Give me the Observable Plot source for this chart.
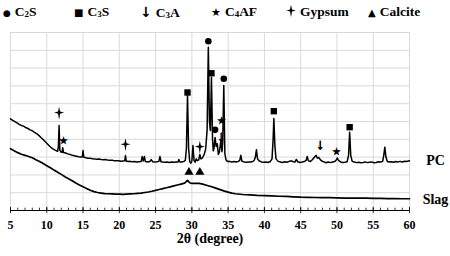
<!DOCTYPE html>
<html>
<head>
<meta charset="utf-8">
<script src="https://cdn.jsdelivr.net/npm/d3@7"></script>
<script src="https://cdn.jsdelivr.net/npm/@observablehq/plot@0.6"></script>
<style>
  html, body { margin: 0; padding: 0; background: #fff; }
  #wrap { position: relative; width: 450px; height: 256px; font-family: "Liberation Serif", "Times New Roman", serif; }
  #legend { position: relative; height: 26px; width: 450px; font-weight: bold; font-size: 13.5px; color: #000; }
  .item { position: absolute; top: 4px; white-space: nowrap; }
  .item sub { font-size: 9px; vertical-align: baseline; position: relative; top: 1px; }
  .sym { display: inline-block; margin-right: 4px; }
  #chart svg text { font-family: "Liberation Serif", "Times New Roman", serif; font-weight: bold; }
  #chart svg text.symtxt { font-family: "DejaVu Sans"; }
</style>
</head>
<body>
<div id="wrap">
  <div id="legend"></div>
  <div id="chart"></div>
</div>
<script>
// 2θ (degree) and relative intensity
const pcTheta = [5.0,5.3,5.6,5.9,6.2,6.5,6.8,7.1,7.4,7.7,8.0,8.3,8.6,8.9,9.2,9.5,9.8,10.1,10.4,10.7,11.0,11.3,11.5,11.6,11.7,11.8,11.95,12.1,12.2,12.3,12.6,12.9,13.2,13.5,13.8,14.1,14.4,14.7,14.9,15.0,15.1,15.4,15.7,16.0,16.3,16.6,16.9,17.2,17.5,17.8,18.1,18.4,18.7,19.0,19.3,19.6,19.9,20.2,20.5,20.75,20.85,20.95,21.2,21.5,21.8,22.1,22.4,22.7,23.0,23.15,23.3,23.45,23.6,23.9,24.2,24.4,24.6,24.9,25.2,25.45,25.6,25.75,26.0,26.3,26.6,26.9,27.2,27.5,27.8,28.1,28.2,28.35,28.6,28.9,29.1,29.25,29.4,29.55,29.7,29.85,30.0,30.15,30.3,30.45,30.6,30.75,30.95,31.1,31.25,31.45,31.7,31.9,32.1,32.27,32.42,32.55,32.7,32.85,32.95,33.05,33.2,33.35,33.5,33.65,33.8,34.0,34.15,34.25,34.4,34.55,34.7,34.9,35.2,35.5,35.8,36.1,36.4,36.6,36.75,36.9,37.2,37.5,37.8,38.1,38.4,38.6,38.75,38.9,39.05,39.3,39.6,39.9,40.2,40.5,40.8,41.05,41.2,41.3,41.45,41.6,41.9,42.2,42.5,42.8,43.1,43.4,43.7,44.0,44.2,44.4,44.6,44.9,45.2,45.5,45.75,45.9,46.05,46.3,46.6,46.8,47.0,47.15,47.3,47.5,47.7,47.9,48.2,48.5,48.8,49.1,49.4,49.7,49.9,50.05,50.2,50.5,50.8,51.1,51.4,51.6,51.75,51.9,52.1,52.4,52.7,53.0,53.3,53.6,53.9,54.2,54.5,54.8,55.1,55.4,55.7,56.0,56.3,56.45,56.6,56.75,56.95,57.2,57.5,57.8,58.1,58.4,58.7,59.0,59.3,59.6,60.0];
const pcIntensity = [51.5,50.6,49.9,49.2,48.4,47.8,47.4,46.6,46.1,45.3,44.8,43.9,43.2,42.2,41.0,39.9,38.6,37.4,36.1,35.0,34.2,33.6,33.3,36.0,47.8,34.0,32.8,32.7,35.2,32.6,32.3,31.8,31.5,31.0,30.8,30.5,30.2,30.0,30.1,33.7,30.0,29.6,29.4,29.3,29.1,29.0,28.8,28.9,28.6,28.5,28.6,28.3,28.2,28.3,28.0,27.9,28.0,27.7,27.8,27.9,30.9,27.8,27.5,27.6,27.4,27.5,27.3,27.4,27.5,30.3,27.8,30.3,27.5,27.3,27.5,28.6,27.4,27.2,27.4,27.6,30.4,27.4,27.2,27.1,27.3,27.0,27.2,27.1,27.3,27.2,28.7,27.2,27.3,27.6,28.2,35.0,64.6,35.0,27.5,26.6,27.8,36.5,28.0,27.2,29.0,28.0,28.5,31.5,29.0,29.5,31.5,34.5,45.0,91.7,50.0,45.0,74.9,40.0,33.5,35.0,41.0,36.0,37.5,31.5,33.0,39.3,33.0,38.0,70.2,32.0,28.5,27.5,27.6,27.3,27.5,27.2,27.6,28.2,31.0,27.7,27.3,27.1,27.3,27.2,27.5,28.2,30.0,34.1,29.0,27.8,27.3,27.1,27.2,27.0,27.5,29.0,40.0,51.7,36.0,29.0,27.6,27.3,27.0,27.4,27.1,27.6,27.9,27.4,27.2,28.7,27.4,27.0,27.2,27.5,28.2,30.3,28.0,27.5,28.5,29.5,30.5,30.9,29.4,29.8,28.6,27.8,27.3,26.8,27.2,26.9,27.2,27.5,28.4,29.5,28.2,27.3,27.0,27.1,27.4,31.0,44.0,31.0,27.6,27.2,26.9,27.1,26.8,27.0,27.3,26.9,27.1,27.3,26.8,27.0,27.4,27.2,27.6,31.0,35.6,30.0,27.5,27.2,27.4,27.1,27.5,27.3,27.6,27.2,27.7,27.5,28.0];

const slagTheta = [5.0,5.5,6.0,6.5,7.0,7.5,8.0,8.5,9.0,9.5,10.0,10.5,11.0,11.5,12.0,12.5,13.0,13.5,14.0,14.5,15.0,15.5,16.0,16.5,17.0,17.5,18.0,18.5,19.0,19.5,20.0,20.5,21.0,21.5,22.0,22.5,23.0,23.5,24.0,24.5,25.0,25.5,26.0,26.5,27.0,27.5,28.0,28.5,29.0,29.4,29.7,30.0,30.5,31.0,31.5,32.0,32.5,33.0,33.5,34.0,34.5,35.0,35.5,36.0,37.0,38.0,39.0,40.0,41.0,42.0,43.0,44.0,45.0,46.0,47.0,48.0,49.0,50.0,51.0,52.0,53.0,54.0,55.0,56.0,57.0,58.0,59.0,60.0];
const slagIntensity = [34.7,33.6,32.5,31.6,31.0,30.3,29.6,28.5,27.5,26.4,25.2,24.0,22.7,21.5,20.3,19.0,17.8,16.7,15.4,14.3,13.3,12.3,11.4,10.6,10.1,9.8,9.5,9.4,9.3,9.2,9.2,9.1,9.2,9.3,9.4,9.6,9.8,10.1,10.4,10.8,11.3,11.8,12.3,12.8,13.3,13.8,14.3,14.8,15.4,16.9,15.6,15.2,15.3,15.2,14.8,14.2,13.6,13.0,12.3,11.6,10.9,10.3,9.8,9.4,9.0,8.8,8.5,8.4,8.2,8.0,7.9,7.7,7.5,7.4,7.3,7.2,7.2,7.1,7.0,7.0,6.9,6.9,6.8,6.8,6.7,6.7,6.6,6.6];

// phase markers: 2θ position and height of marker
const c2sTheta = [32.27, 34.4, 33.2];
const c2sY = [95.1, 74.0, 45.3];
const c3sTheta = [29.4, 32.7, 41.3, 51.75];
const c3sY = [66.3, 77.1, 55.8, 46.8];
const c3aTheta = [34.05, 47.7];
const c3aY = [41.8, 37.0];
const c4afTheta = [12.25, 34.05, 50.0];
const c4afY = [39.3, 50.6, 33.1];
const gypsumTheta = [11.7, 20.85, 31.1];
const gypsumY = [54.7, 36.9, 35.6];
const calciteTheta = [29.6, 31.1];
const calciteY = [21.5, 21.5];

const xTicks = [5,10,15,20,25,30,35,40,45,50,55,60];
const xMinor = d3.range(5, 61, 1);
const yGrid = [0,10,20,30,40,50,60,70,80,90,100];
const seriesLabels = ["PC", "Slag"];
const seriesLabelY = [28.1, 6.2];

// thin four-pointed cross used for gypsum
const gypsumSymbol = {
  draw(ctx, size) {
    const r = Math.sqrt(size / Math.PI);
    const v = r * 1.25, h = r * 0.95, w = r * 0.2, c = -r * 0.1;
    ctx.moveTo(0, -v);
    ctx.lineTo(w, c - w);
    ctx.lineTo(h, c);
    ctx.lineTo(w, c + w);
    ctx.lineTo(0, v);
    ctx.lineTo(-w, c + w);
    ctx.lineTo(-h, c);
    ctx.lineTo(-w, c - w);
    ctx.closePath();
  }
};

const legendItems = [
  {sym: "●", name: "C", sub: "2", rest: "S", left: 3, size: 9},
  {sym: "■", name: "C", sub: "3", rest: "S", left: 74, size: 10},
  {sym: "↓", name: "C", sub: "3", rest: "A", left: 140, size: 14},
  {sym: "★", name: "C", sub: "4", rest: "AF", left: 211, size: 11},
  {sym: "gyp", name: "Gypsum", sub: "", rest: "", left: 286, size: 12},
  {sym: "▲", name: "Calcite", sub: "", rest: "", left: 368, size: 10}
];

const leg = document.getElementById("legend");
for (const it of legendItems) {
  const d = document.createElement("div");
  d.className = "item";
  d.style.left = it.left + "px";
  const s = document.createElement("span");
  s.className = "sym";
  s.style.fontSize = it.size + "px";
  s.style.fontFamily = "DejaVu Sans";
  if (it.sym === "gyp") {
    const p = d3.path();
    gypsumSymbol.draw(p, Math.PI * 25);
    s.innerHTML = `<svg width="10" height="14" viewBox="-5 -7 10 14" style="vertical-align:-2px"><path d="${p.toString()}" fill="#000"/></svg>`;
  } else {
    s.textContent = it.sym;
  }
  d.appendChild(s);
  const t = document.createElement("span");
  t.innerHTML = it.name + (it.sub ? "<sub>" + it.sub + "</sub>" : "") + it.rest;
  d.appendChild(t);
  leg.appendChild(d);
}

const pc = pcTheta.map((x, i) => ({x, y: pcIntensity[i]}));
const slag = slagTheta.map((x, i) => ({x, y: slagIntensity[i]}));
const pts = (xs, ys) => xs.map((x, i) => ({x, y: ys[i]}));

const chart = Plot.plot({
  width: 450,
  height: 230,
  marginTop: 6,
  marginBottom: 46,
  marginLeft: 10,
  marginRight: 41,
  style: {fontFamily: "Liberation Serif", fontWeight: "bold", fontSize: "12px", color: "#000", background: "#fff"},
  x: {domain: [5, 60]},
  y: {domain: [0, 100], axis: null},
  marks: [
    Plot.gridX(xTicks, {stroke: "#d9d9d9", strokeOpacity: 1}),
    Plot.gridY(yGrid, {stroke: "#d9d9d9", strokeOpacity: 1}),
    Plot.ruleY([0], {stroke: "#000", strokeWidth: 1}),
    Plot.ruleX(xMinor, {y1: 0, y2: 1.3, stroke: "#000", strokeWidth: 0.8}),
    Plot.ruleX(xTicks, {y1: -1.8, y2: 1.8, stroke: "#000", strokeWidth: 0.8}),
    Plot.axisX(xTicks, {tickSize: 0, tickPadding: 10, fontSize: 12, fontWeight: "bold", label: null}),
    Plot.text(["2θ (degree)"], {frameAnchor: "bottom", lineAnchor: "middle", dy: 28, fontSize: 14, fontWeight: "bold"}),
    Plot.line(slag, {x: "x", y: "y", stroke: "#000", strokeWidth: 1.7}),
    Plot.line(pc, {x: "x", y: "y", stroke: "#000", strokeWidth: 1.5}),
    Plot.dot(pts(c2sTheta, c2sY), {x: "x", y: "y", r: 3.3, fill: "#000", stroke: "none"}),
    Plot.dot(pts(c3sTheta, c3sY), {x: "x", y: "y", symbol: "square", r: 3.6, fill: "#000", stroke: "none"}),
    Plot.dot(pts(calciteTheta, calciteY), {x: "x", y: "y", symbol: "triangle", r: 3.4, fill: "#000", stroke: "none"}),
    Plot.dot(pts(gypsumTheta, gypsumY), {x: "x", y: "y", symbol: gypsumSymbol, r: 5.2, fill: "#000", stroke: "none"}),
    Plot.text(pts(c3aTheta, c3aY), {x: "x", y: "y", text: () => "↓", fontSize: 15, className: "symtxt", fill: "#000", stroke: "#000", strokeWidth: 0.7}),
    Plot.text(pts(c4afTheta, c4afY), {x: "x", y: "y", text: () => "★", fontSize: 10, className: "symtxt"}),
    Plot.text(seriesLabels.map((s, i) => ({s, y: seriesLabelY[i]})), {x: () => 60, y: "y", text: "s", dx: 26, fontSize: 14, fontWeight: "bold"})
  ]
});
document.getElementById("chart").appendChild(chart);
</script>
</body>
</html>
